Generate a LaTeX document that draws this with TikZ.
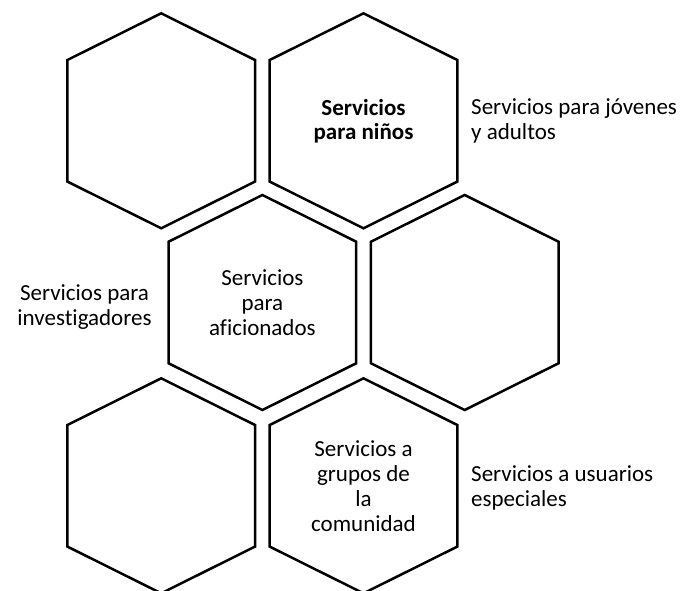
\documentclass[tikz,border=0pt]{standalone}
\usepackage{fontspec}
\setmainfont{Carlito}[Ligatures=NoCommon]
\usetikzlibrary{positioning}

\begin{document}
\begin{tikzpicture}[x=1pt,y=-1pt,on grid,
  hexbox/.style={inner sep=0pt,align=center,font=\fontsize{23}{25}\selectfont},
  boldhex/.style={hexbox,font=\fontsize{23}{24}\selectfont\bfseries},
  sidetext/.style={inner sep=0pt,font=\fontsize{23}{25}\selectfont},
  hexline/.style={line width=2.5pt}]
\useasboundingbox (0,0) rectangle (686,591);
\node[hexbox] (vacioA) at (161.2,120.8) {};
\node[boldhex] (ninos) [right=202.3pt of vacioA] {Servicios\\para niños};
\node[hexbox] (aficionados) [below right=181.7pt and 101.2pt of vacioA] {Servicios\\para\\aficionados};
\node[hexbox] (vacioB) [right=202.3pt of aficionados] {};
\node[hexbox] (vacioC) [below=365pt of vacioA] {};
\node[hexbox] (comunidad) [right=202.3pt of vacioC] {Servicios a\\grupos de\\la\\comunidad};
% texts beside the hexagons
\node[sidetext,anchor=west,align=left] (jovenes) at (471,120.5) {Servicios para jóvenes\\y adultos};
\node[sidetext,align=center] (investigadores) at (84.5,307.5) {Servicios para\\investigadores};
\node[sidetext,anchor=west,align=left] (usuarios) at (471,487.5) {Servicios a usuarios\\especiales};
% hexagon outlines
\foreach \h in {vacioA,ninos,aficionados,vacioB,vacioC,comunidad}
  \draw[hexline] (\h.center) +(0,-107.5) -- +(93.8,-60.8) -- +(93.8,60.8) -- +(0,107.5)
    -- +(-93.8,60.8) -- +(-93.8,-60.8) -- cycle;
\end{tikzpicture}
\end{document}
